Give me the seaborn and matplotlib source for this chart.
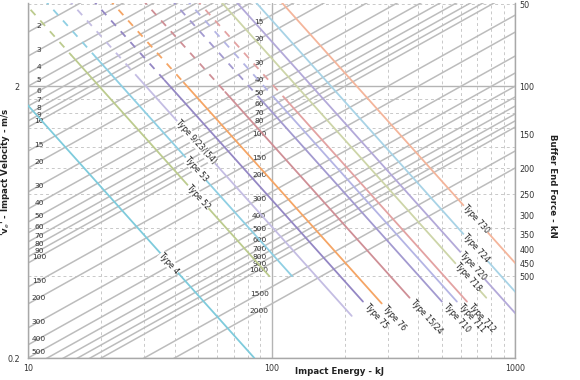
import numpy as np
import matplotlib
matplotlib.use("Agg")
import matplotlib.pyplot as plt
from matplotlib.ticker import FixedLocator, FixedFormatter, NullLocator, NullFormatter
import seaborn as sns

# ---------------- data ----------------
energy_range = [10, 1000]                       # kJ
energy_major = [10, 100, 1000]
energy_minor = [20, 30, 40, 50, 60, 70, 80, 90, 200, 300, 400, 500, 600, 700, 800, 900]
velocity_range = [0.2, 4.05]                    # m/s
velocity_major = [0.2, 2]
velocity_minor = [0.4, 0.6, 0.8, 1.0, 1.2, 1.4, 1.6, 1.8, 4]
force_ticks = [50, 100, 150, 200, 250, 300, 350, 400, 450, 500]   # kN
force_velocity_product = 200                    # F (kN) = 200 / v (m/s) on this nomogram

masses = [2, 3, 4, 5, 6, 7, 8, 9, 10, 15, 20, 30, 40, 50, 60, 70, 80, 90, 100,
          150, 200, 300, 400, 500, 600, 700, 800, 900, 1000, 1500, 2000]   # t
masses_left_labels = [2, 3, 4, 5, 6, 7, 8, 9, 10, 15, 20, 30, 40, 50, 60, 70, 80, 90,
                      100, 150, 200, 300, 400, 500]
masses_mid_labels = [15, 20, 30, 40, 50, 60, 70, 80, 100, 150, 200, 300, 400, 500,
                     600, 700, 800, 900, 1000, 1500, 2000]
mass_label_energy_left = 11.1
mass_label_energy_mid = 89.0

buffer_names = ["Type 4", "Type 52", "Type 53", "Type 9/23/(54)", "Type 75", "Type 76",
                "Type 15/24", "Type 710", "Type 711", "Type 712", "Type 718", "Type 720",
                "Type 724", "Type 730"]
buffer_energy_at_100kN = [8.5, 19.6, 24.3, 30.5, 38.3, 45.0, 61.5, 80.8, 93.1, 102.4,
                          127.0, 146.5, 175.6, 224.0]
buffer_force_solid_from = [45, 77, 78, 93, 95, 97, 105, 110, 110, 110, 45, 45, 45, 45]
buffer_force_end = [1000, 500, 500, 700, 620, 630, 600, 620, 620, 620, 600, 1000, 1000, 1000]
buffer_colors = ["#7ecbdc", "#bccb8e", "#8fcfe3", "#c4bde3", "#9487c4", "#f5a565",
                 "#cf8f96", "#a39ad0", "#b4b4e4", "#e3a2a2", "#cdd5a8", "#b3a9d9",
                 "#a8d3e6", "#f4b59b"]
# energy at which label is centred on the line (None -> label placed after line end)
buffer_label_energy = [38, 50, 49, 49, None, None, None, None, None, None, 640, 670, 690, 690]

# ---------------- figure ----------------
sns.set_theme(style="white")
plt.rcParams["font.family"] = ["DejaVu Sans"]

W, H = 580, 380
fig = plt.figure(figsize=(W / 100, H / 100), dpi=100)
ax = fig.add_axes([28 / W, 22 / H, 487 / W, 355 / H])
ax.set_xscale("log")
ax.set_yscale("log")
ax.set_xlim(*energy_range)
ax.set_ylim(*velocity_range)

ax.xaxis.set_major_locator(FixedLocator(energy_major))
ax.xaxis.set_major_formatter(FixedFormatter([str(e) for e in energy_major]))
ax.xaxis.set_minor_locator(FixedLocator(energy_minor))
ax.xaxis.set_minor_formatter(NullFormatter())
ax.yaxis.set_major_locator(FixedLocator(velocity_major))
ax.yaxis.set_major_formatter(FixedFormatter([str(v) for v in velocity_major]))
ax.yaxis.set_minor_locator(FixedLocator(velocity_minor))
ax.yaxis.set_minor_formatter(NullFormatter())

ax.set_axisbelow(True)
ax.grid(which="major", color="#b4b4b4", lw=1.0, ls="-")
ax.grid(which="minor", color="#c9c9c9", lw=0.7, ls=(0, (3, 3)))
ax.tick_params(which="both", length=0)
ax.tick_params(axis="x", pad=4, labelsize=5.8, labelcolor="#333333")
ax.tick_params(axis="y", pad=6, labelsize=5.8, labelcolor="#333333")
for s in ["left", "right", "bottom"]:
    ax.spines[s].set_color("#a8a8a8")
    ax.spines[s].set_linewidth(1.0)
ax.spines["top"].set_visible(False)

# mass lines (v = sqrt(2E/m))
e_dense = np.geomspace(energy_range[0], energy_range[1], 3)
for m in masses:
    v = np.sqrt(2 * e_dense / m)
    sns.lineplot(x=e_dense, y=v, ax=ax, color="#bcbcbc", linewidth=1.1,
                 estimator=None, sort=False)

for m in masses_left_labels:
    e = mass_label_energy_left
    ax.text(e, np.sqrt(2 * e / m), str(m), ha="center", va="center",
            fontsize=5.4, color="#333333")
for m in masses_mid_labels:
    e = mass_label_energy_mid
    ax.text(e, np.sqrt(2 * e / m), str(m), ha="center", va="center",
            fontsize=5.4, color="#333333")

# force axis
ax2 = ax.twinx()
ax2.set_yscale("log")
ax2.set_ylim(force_velocity_product / velocity_range[0],
             force_velocity_product / velocity_range[1])
ax2.set_xlim(*energy_range)
ax2.yaxis.set_major_locator(FixedLocator(force_ticks))
ax2.yaxis.set_major_formatter(FixedFormatter([str(f) for f in force_ticks]))
ax2.yaxis.set_minor_locator(NullLocator())
ax2.tick_params(axis="y", length=0, pad=3, labelsize=5.8, labelcolor="#333333")
for s in ax2.spines.values():
    s.set_visible(False)
ax2.grid(False)

p1 = ax2.transData.transform((100, 100))
p2 = ax2.transData.transform((1000, 1000))
angle = np.degrees(np.arctan2(p2[1] - p1[1], p2[0] - p1[0]))

for name, e100, fsol, fend, col, le in zip(buffer_names, buffer_energy_at_100kN,
                                           buffer_force_solid_from, buffer_force_end,
                                           buffer_colors, buffer_label_energy):
    f_top = 45.0
    if fsol > f_top:
        f_d = np.array([f_top, fsol])
        sns.lineplot(x=e100 * f_d / 100, y=f_d, ax=ax2, color=col, linewidth=1.3,
                     linestyle=(0, (4, 4)), estimator=None, sort=False)
    f_s = np.array([fsol, fend])
    sns.lineplot(x=e100 * f_s / 100, y=f_s, ax=ax2, color=col, linewidth=1.3,
                 estimator=None, sort=False)
    if le is not None:
        ax2.text(le, le * 100 / e100, name, rotation=angle, rotation_mode="anchor",
                 ha="center", va="center", fontsize=5.6, color="#222222",
                 bbox=dict(facecolor="white", edgecolor="none", pad=0.3))
    else:
        e_end = e100 * fend / 100
        ax2.text(e_end * 1.03, fend * 1.03, name, rotation=angle, rotation_mode="anchor",
                 ha="left", va="center", fontsize=5.6, color="#222222")

ax.set_xlabel("")
ax.set_ylabel("")
ax2.set_ylabel("")

fig.text(340 / W, 1 - 372 / H, "Impact Energy - kJ", ha="center", va="center",
         fontsize=6.2, fontweight="bold", color="#222222")
fig.text(6 / W, 1 - 172 / H, "'v$_e$' - Impact Velocity - m/s", ha="center", va="center",
         rotation=90, fontsize=6.2, fontweight="bold", color="#222222")
fig.text(553 / W, 1 - 186 / H, "Buffer End Force - kN", ha="center", va="center",
         rotation=270, fontsize=6.2, fontweight="bold", color="#222222")

fig.savefig("out.png", dpi=100)
